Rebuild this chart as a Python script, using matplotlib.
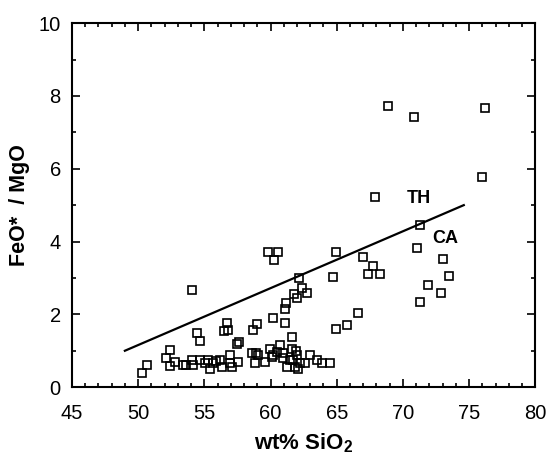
import matplotlib
matplotlib.use('Agg')
import matplotlib.pyplot as plt
from matplotlib.ticker import MultipleLocator

plt.rcParams['font.family'] = ['Liberation Sans', 'DejaVu Sans']
plt.rcParams['mathtext.fontset'] = 'custom'
plt.rcParams['mathtext.rm'] = 'Liberation Sans'
plt.rcParams['mathtext.bf'] = 'Liberation Sans:bold'

# wt% SiO2 and FeO*/MgO
sio2 = [50.27, 50.7,
        52.4, 52.1, 52.4, 52.78, 53.41, 53.6,
        54.05, 54.17, 54.67, 55.05, 55.3, 55.43, 55.68, 55.9, 56.19, 56.31,
        56.94, 56.94, 57.07, 57.57,
        54.43, 54.67, 54.05,
        56.69, 56.51, 56.8, 57.45, 57.6,
        58.7, 58.96, 60.17, 61.1, 61.6, 61.1, 61.2, 61.98, 61.8, 62.36, 62.74, 62.18,
        59.84, 60.6, 60.27,
        58.58, 58.9, 58.83, 59.08, 59.59, 59.97, 60.09, 60.47, 60.72, 60.97,
        60.97, 61.23, 61.6, 61.73, 61.86, 61.98, 62.1, 62.23, 62.6, 62.99,
        63.5, 63.87, 64.5, 61.9, 60.2, 61.48,
        64.95, 64.7, 66.95, 67.77, 67.4, 68.3, 66.64, 65.78, 64.93,
        68.91, 70.87, 76.24, 75.97, 67.9, 71.3, 71.05, 73.02, 73.45, 71.93,
        72.89, 71.3]
feo_mgo = [0.40, 0.61,
           1.03, 0.79, 0.57, 0.70, 0.60, 0.62,
           0.74, 0.60, 0.74, 0.65, 0.74, 0.51, 0.65, 0.72, 0.74, 0.56,
           0.88, 0.65, 0.56, 0.70,
           1.49, 1.28, 2.66,
           1.76, 1.55, 1.58, 1.18, 1.24,
           1.57, 1.73, 1.89, 1.75, 1.38, 2.16, 2.30, 2.44, 2.57, 2.71, 2.59, 2.99,
           3.72, 3.72, 3.49,
           0.94, 0.94, 0.65, 0.88, 0.70, 1.06, 0.83, 0.97, 1.15, 0.93,
           0.79, 0.56, 1.06, 0.74, 0.56, 0.88, 0.49, 0.65, 0.65, 0.88,
           0.74, 0.65, 0.65, 1.00, 0.88, 0.74,
           3.72, 3.02, 3.58, 3.32, 3.10, 3.10, 2.04, 1.72, 1.59,
           7.72, 7.41, 7.67, 5.78, 5.21, 4.45, 3.83, 3.51, 3.06, 2.80,
           2.60, 2.34]

# TH / CA dividing line
line_x = [49, 74.6]
line_y = [1.0, 5.0]

fig = plt.figure(figsize=(5.49, 4.62), dpi=100)
ax = fig.add_axes([0.131, 0.162, 0.844, 0.788])

ax.plot(sio2, feo_mgo, linestyle='none', marker='s', markersize=6,
        markerfacecolor='none', markeredgecolor='black', markeredgewidth=1.2)
ax.plot(line_x, line_y, color='black', linewidth=1.6)

ax.text(71.2, 5.18, 'TH', fontsize=13, fontweight='bold', ha='center', va='center')
ax.text(73.2, 4.08, 'CA', fontsize=13, fontweight='bold', ha='center', va='center')

ax.set_xlim(45, 80)
ax.set_ylim(0, 10)
ax.xaxis.set_major_locator(MultipleLocator(5))
ax.xaxis.set_minor_locator(MultipleLocator(1))
ax.yaxis.set_major_locator(MultipleLocator(2))
ax.yaxis.set_minor_locator(MultipleLocator(1))

ax.tick_params(which='both', direction='in', top=True, right=True, width=1.2)
ax.tick_params(which='major', length=6, labelsize=14.5)
ax.tick_params(axis='x', which='major', pad=12)
ax.tick_params(axis='y', which='major', pad=8)
ax.tick_params(which='minor', length=3)
for s in ax.spines.values():
    s.set_linewidth(1.5)

ax.set_xlabel(r'wt% SiO$_\mathbf{2}$', fontsize=16, fontweight='bold', labelpad=6)
ax.set_ylabel('FeO*  / MgO', fontsize=15.5, fontweight='bold', labelpad=6)

fig.savefig('out.png', dpi=100)
